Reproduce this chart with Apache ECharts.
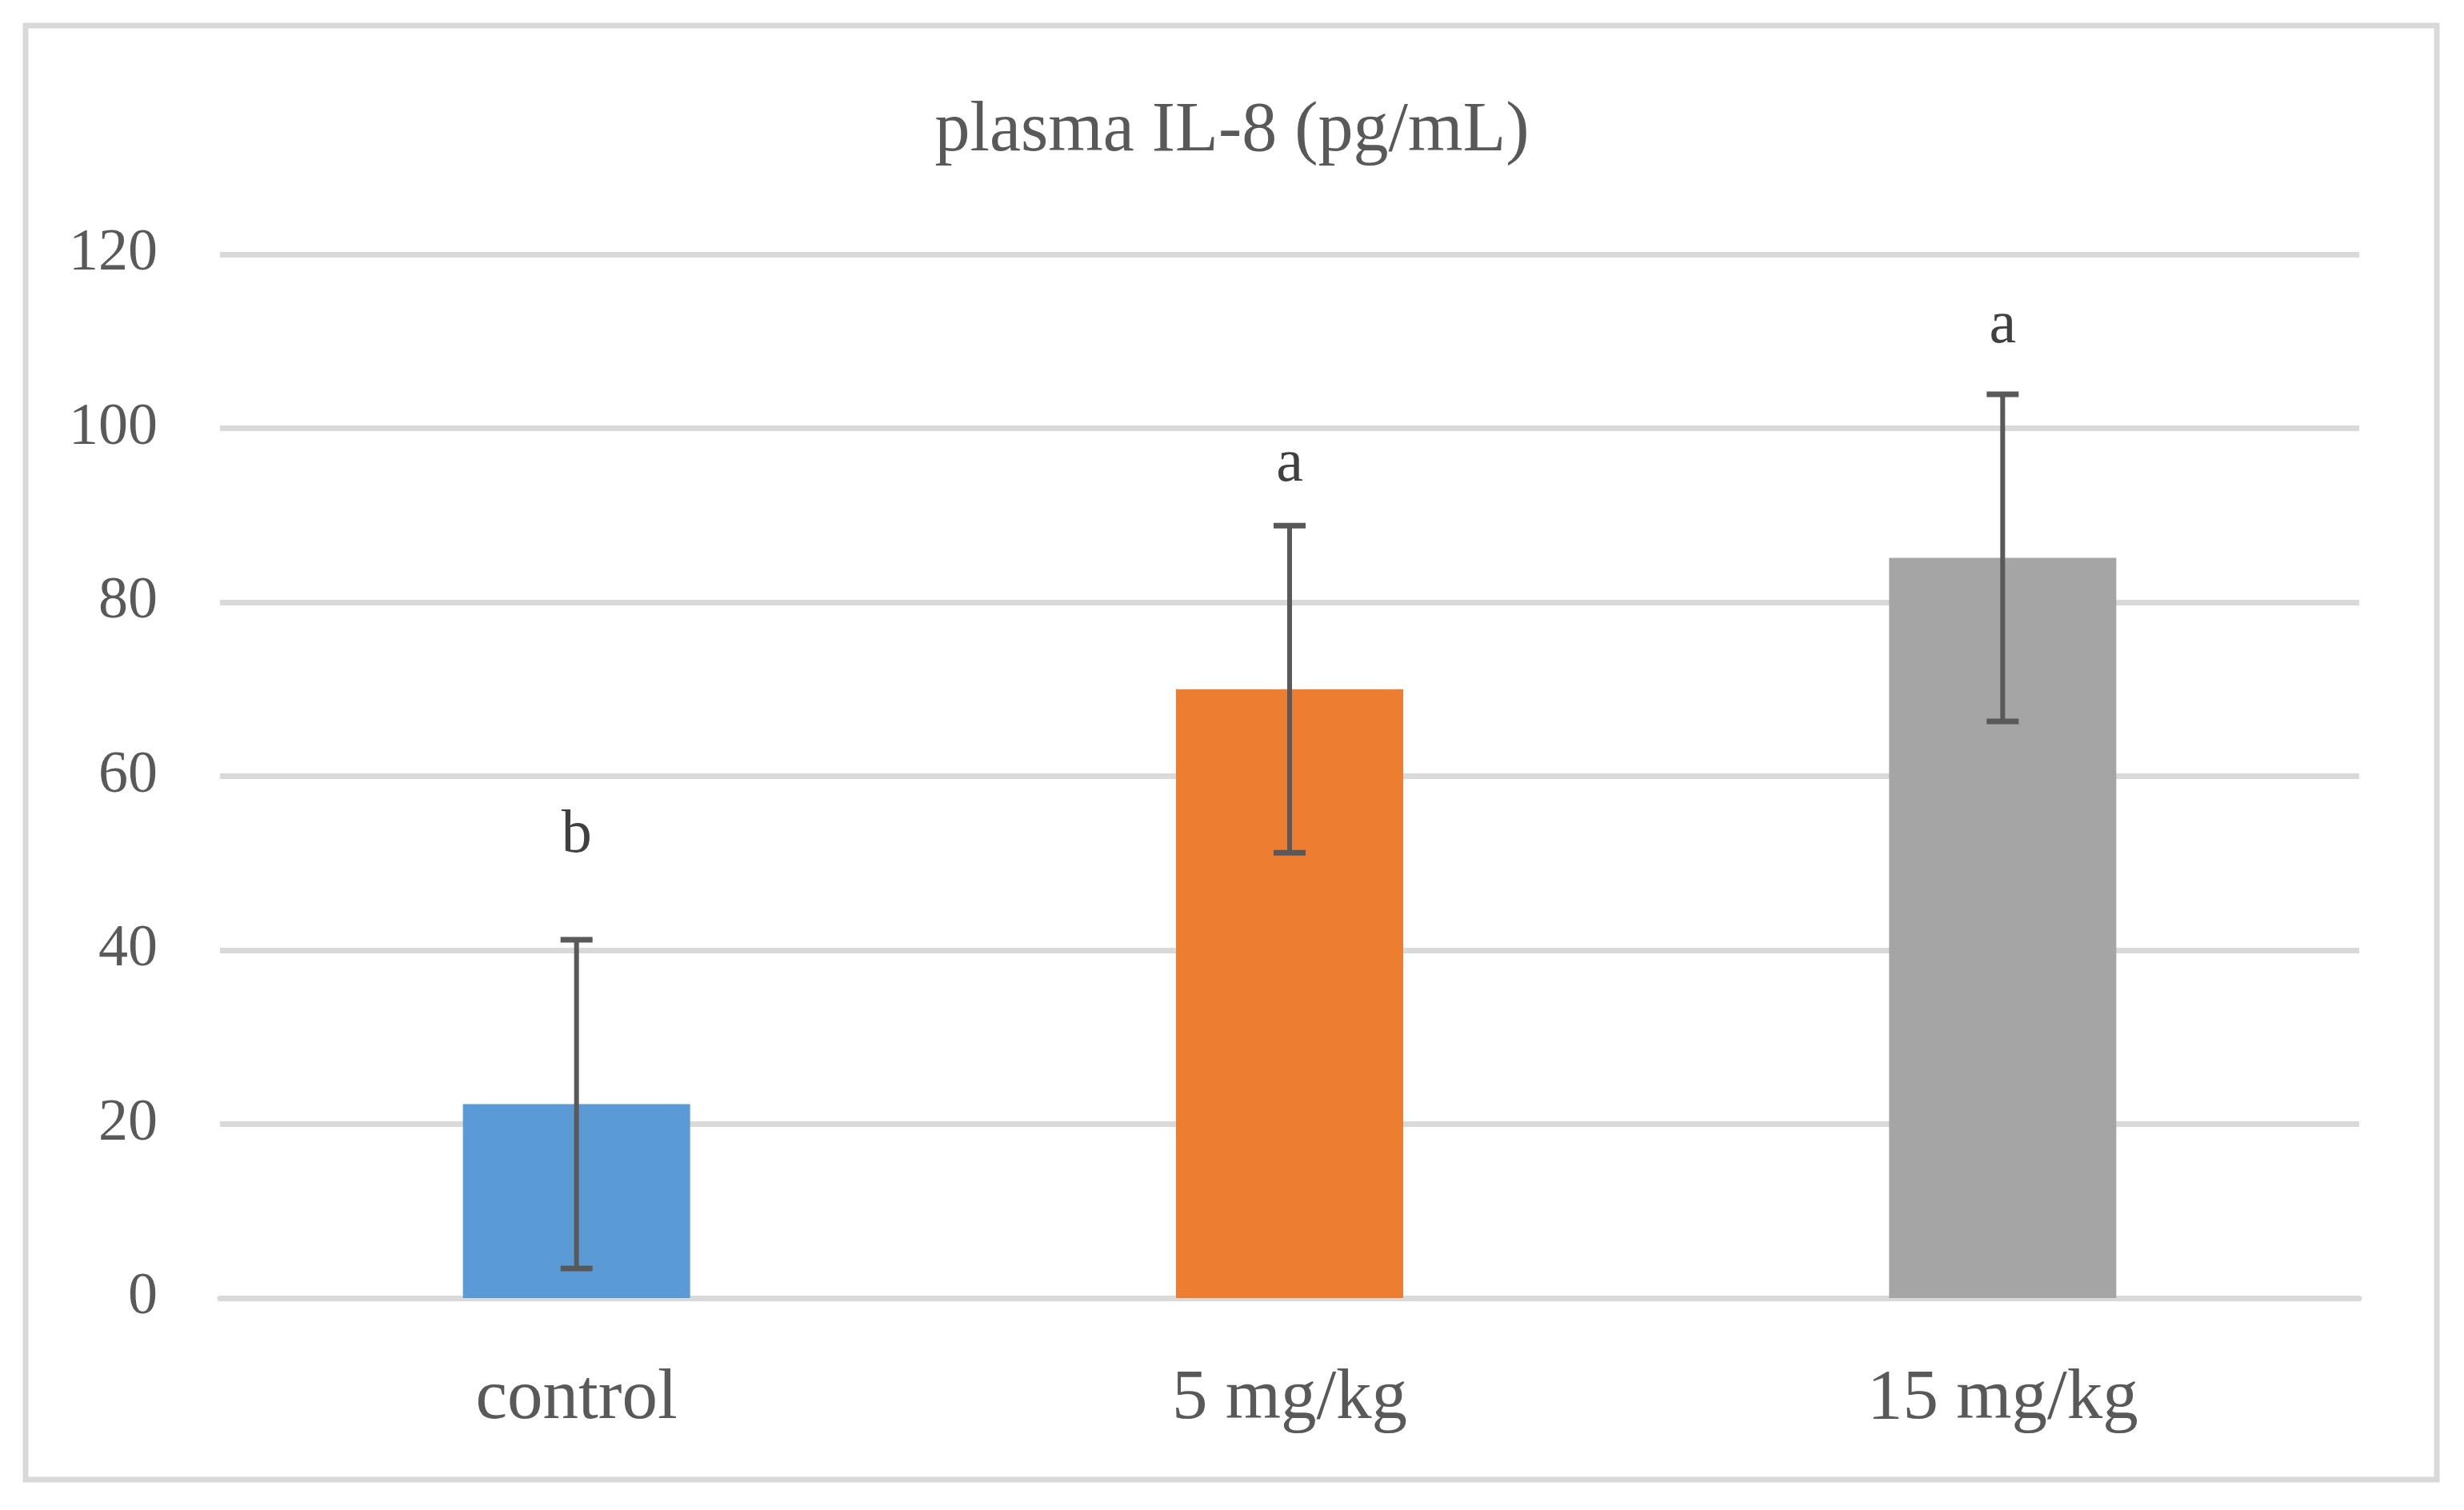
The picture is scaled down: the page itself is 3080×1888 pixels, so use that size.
<!DOCTYPE html>
<html>
<head>
<meta charset="utf-8">
<script src="https://cdn.jsdelivr.net/npm/echarts@6/dist/echarts.min.js"></script>
<style>
html,body{margin:0;padding:0;background:#fff;}
#chart{width:3080px;height:1888px;}
</style>
</head>
<body>
<div id="chart"></div>
<script>
const titleText = 'plasma IL-8 (pg/mL)';
const categories = ['control', '5 mg/kg', '15 mg/kg'];
const means = [22.3, 70.0, 85.1];
const errors = [18.9, 18.8, 18.8];
const letters = ['b', 'a', 'a'];
const letterValues = [53.1, 95.8, 111.7];
const barColors = ['#5B9BD5', '#ED7D31', '#A5A5A5'];
const yTicks = [0, 20, 40, 60, 80, 100, 120];

const FONT = '"Liberation Serif", "Times New Roman", serif';
const chart = echarts.init(document.getElementById('chart'), null, {renderer: 'canvas'});

const errData = means.map((m, i) => [i, m - errors[i], m + errors[i]]);
const letterData = letters.map((l, i) => [i, letterValues[i], l]);

chart.setOption({
  backgroundColor: '#ffffff',
  animation: false,
  title: {
    text: titleText,
    left: 'center',
    top: 116,
    textStyle: {fontFamily: FONT, fontSize: 88, fontWeight: 'normal', color: '#595959'}
  },
  graphic: [{
    type: 'rect',
    shape: {x: 32, y: 32, width: 3014, height: 1818},
    style: {fill: 'none', stroke: '#d9d9d9', lineWidth: 7},
    z: 100
  }],
  grid: {left: 275, right: 131, top: 318, bottom: 265},
  xAxis: {
    type: 'category',
    data: categories,
    axisLine: {show: true, lineStyle: {color: '#d9d9d9', width: 7}},
    axisTick: {show: false},
    axisLabel: {fontFamily: FONT, fontSize: 89, color: '#595959', margin: 82}
  },
  yAxis: {
    type: 'value',
    min: yTicks[0],
    max: yTicks[yTicks.length - 1],
    interval: yTicks[1] - yTicks[0],
    axisLine: {show: false},
    axisTick: {show: false},
    splitLine: {lineStyle: {color: '#d9d9d9', width: 7}},
    axisLabel: {fontFamily: FONT, fontSize: 74, color: '#595959', margin: 78}
  },
  series: [
    {
      type: 'bar',
      barWidth: 284,
      data: means.map((v, i) => ({value: v, itemStyle: {color: barColors[i]}})),
      z: 2
    },
    {
      type: 'custom',
      data: errData,
      z: 5,
      renderItem: function (params, api) {
        const x = api.value(0);
        const lo = api.coord([x, api.value(1)]);
        const hi = api.coord([x, api.value(2)]);
        const cap = 20;
        const st = {stroke: '#595959', lineWidth: 6};
        const stc = {stroke: '#595959', lineWidth: 7};
        return {
          type: 'group',
          children: [
            {type: 'line', shape: {x1: lo[0], y1: lo[1], x2: hi[0], y2: hi[1]}, style: st},
            {type: 'line', shape: {x1: hi[0] - cap, y1: hi[1], x2: hi[0] + cap, y2: hi[1]}, style: stc},
            {type: 'line', shape: {x1: lo[0] - cap, y1: lo[1], x2: lo[0] + cap, y2: lo[1]}, style: stc}
          ]
        };
      }
    },
    {
      type: 'custom',
      data: letterData,
      z: 6,
      renderItem: function (params, api) {
        const p = api.coord([api.value(0), api.value(1)]);
        return {
          type: 'text',
          x: p[0],
          y: p[1],
          style: {
            text: letters[params.dataIndex],
            font: '76px ' + FONT,
            fill: '#404040',
            align: 'center',
            verticalAlign: 'middle'
          }
        };
      }
    }
  ]
});
</script>
</body>
</html>
